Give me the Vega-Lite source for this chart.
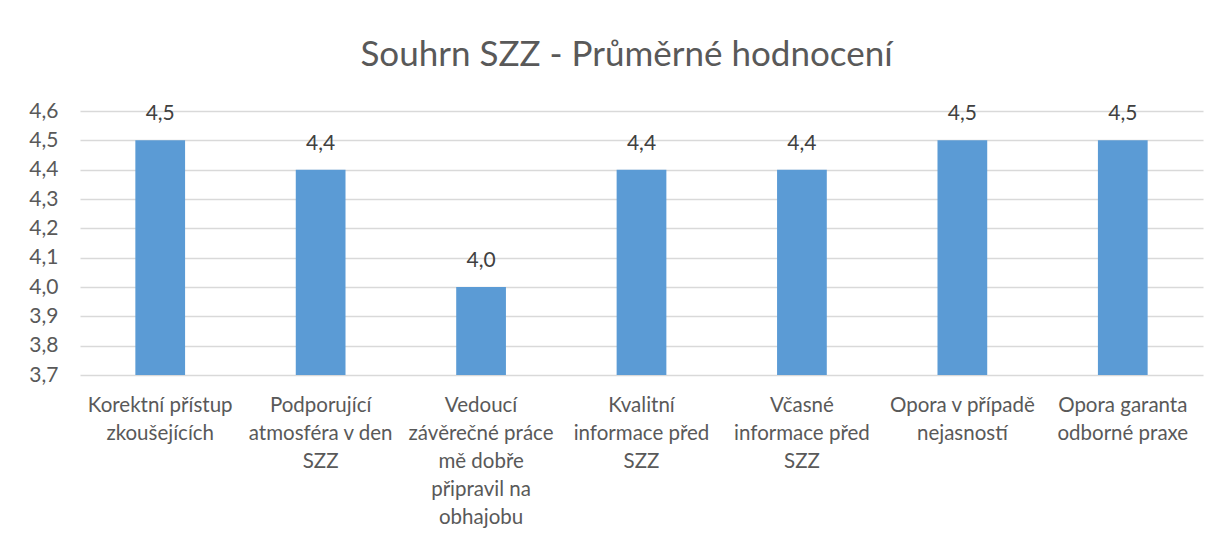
{
  "$schema": "https://vega.github.io/schema/vega-lite/v6.json",
  "width": 1123,
  "height": 264,
  "autosize": {"type": "none"},
  "padding": {"left": 80, "top": 111, "right": 18, "bottom": 171},
  "background": "white",
  "config": {
    "view": {"stroke": null},
    "font": "Lato",
    "locale": {"number": {"decimal": ",", "thousands": " ", "grouping": [3], "currency": ["", " Kč"]}}
  },
  "title": {
    "text": "Souhrn SZZ - Průměrné hodnocení",
    "fontSize": 35,
    "font": "Lato",
    "fontWeight": "normal",
    "color": "#595959",
    "anchor": "middle",
    "offset": 27,
    "dx": -15
  },
  "data": {
    "values": [
      {"kategorie": "Korektní přístup\nzkoušejících", "hodnoceni": 4.5},
      {"kategorie": "Podporující\natmosféra v den\nSZZ", "hodnoceni": 4.4},
      {"kategorie": "Vedoucí\nzávěrečné práce\nmě dobře\npřipravil na\nobhajobu", "hodnoceni": 4.0},
      {"kategorie": "Kvalitní\ninformace před\nSZZ", "hodnoceni": 4.4},
      {"kategorie": "Včasné\ninformace před\nSZZ", "hodnoceni": 4.4},
      {"kategorie": "Opora v případě\nnejasností", "hodnoceni": 4.5},
      {"kategorie": "Opora garanta\nodborné praxe", "hodnoceni": 4.5}
    ]
  },
  "encoding": {
    "x": {
      "field": "kategorie",
      "type": "nominal",
      "sort": null,
      "scale": {"paddingInner": 0.69, "paddingOuter": 0.345},
      "axis": {
        "title": null,
        "labelAngle": 0,
        "labelExpr": "split(datum.label, '\\n')",
        "labelFontSize": 20.5,
        "labelLineHeight": 28,
        "labelColor": "#595959",
        "labelFont": "Lato",
        "labelPadding": 20,
        "labelLimit": 0,
        "labelOverlap": false,
        "labelBaseline": "top",
        "ticks": false,
        "domain": false
      }
    },
    "y": {
      "field": "hodnoceni",
      "type": "quantitative",
      "scale": {"domain": [3.7, 4.6], "zero": false, "nice": false},
      "axis": {
        "title": null,
        "values": [3.7, 3.8, 3.9, 4.0, 4.1, 4.2, 4.3, 4.4, 4.5, 4.6],
        "format": ".1f",
        "grid": true,
        "gridColor": "#D9D9D9",
        "gridWidth": 1.3,
        "domain": false,
        "ticks": false,
        "labelOverlap": false,
        "labelPadding": 22,
        "labelFontSize": 21,
        "labelColor": "#595959",
        "labelFont": "Lato"
      }
    }
  },
  "layer": [
    {
      "mark": {"type": "bar", "color": "#5B9BD5"},
      "encoding": {
        "y2": {"datum": 3.7}
      }
    },
    {
      "mark": {"type": "text", "dy": -26, "fontSize": 21, "color": "#404040", "font": "Lato"},
      "encoding": {
        "text": {"field": "hodnoceni", "type": "quantitative", "format": ".1f"}
      }
    }
  ]
}
